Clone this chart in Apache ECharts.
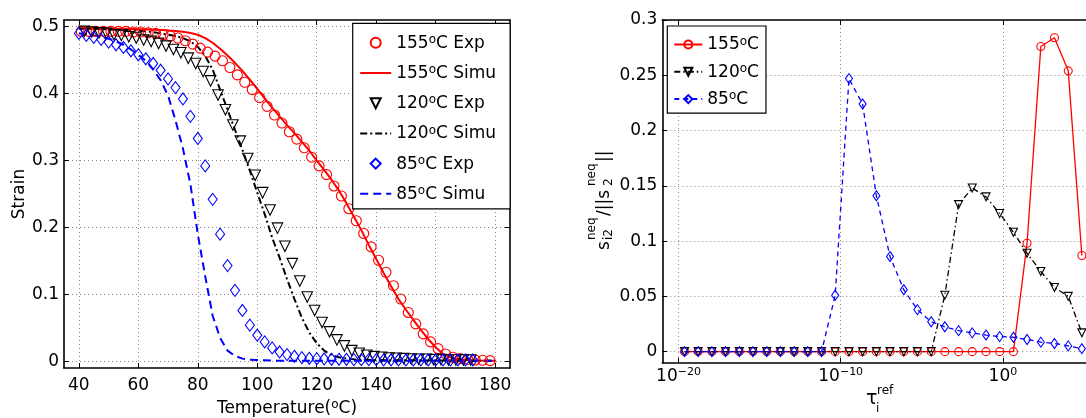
<!DOCTYPE html>
<html><head><meta charset="utf-8">
<script src="https://cdn.jsdelivr.net/npm/echarts@6/dist/echarts.min.js"></script>
<style>html,body{margin:0;padding:0;background:#fff}#c{width:1086px;height:418px}</style>
</head><body><div id="c"></div>
<script>
// ---------- Left chart data ----------
const T155exp = [40.8,43.3,45.8,48.3,50.8,53.3,55.8,58.3,60.8,63.3,65.8,68.3,70.8,73.3,75.8,78.3,80.8,83.3,85.8,88.3,90.8,93.3,95.8,98.3,100.8,103.3,105.8,108.3,110.8,113.3,115.8,118.3,120.8,123.3,125.8,128.3,130.8,133.3,135.8,138.3,140.8,143.3,145.8,148.3,150.8,153.3,155.8,158.3,160.8,163.3,165.8,168.3,170.8,173.3,175.8,178.3];
const S155exp = [0.493,0.493,0.493,0.493,0.493,0.493,0.493,0.492,0.492,0.491,0.490,0.488,0.486,0.483,0.479,0.474,0.468,0.462,0.456,0.449,0.439,0.428,0.417,0.406,0.394,0.381,0.368,0.356,0.343,0.332,0.319,0.305,0.292,0.279,0.262,0.247,0.228,0.210,0.191,0.171,0.151,0.133,0.113,0.093,0.073,0.056,0.041,0.029,0.019,0.011,0.006,0.004,0.003,0.002,0.0015,0.001];

const Tsim = [40,42.5,45,47.5,50,52.5,55,57.5,60,62.5,65,67.5,70,72.5,75,77.5,80,82.5,85,87.5,90,92.5,95,97.5,100,102.5,105,107.5,110,112.5,115,117.5,120,122.5,125,127.5,130,132.5,135,137.5,140,142.5,145,147.5,150,152.5,155,157.5,160,162.5,165,167.5,170,172.5,175,177.5,180];
const S155sim = [0.4975,0.4975,0.4974,0.4973,0.4972,0.497,0.4968,0.4966,0.4963,0.496,0.4956,0.4951,0.4945,0.4937,0.4925,0.4907,0.488,0.483,0.476,0.467,0.457,0.446,0.434,0.421,0.407,0.393,0.379,0.366,0.353,0.341,0.328,0.315,0.300,0.286,0.271,0.255,0.236,0.216,0.196,0.174,0.153,0.132,0.112,0.093,0.077,0.062,0.047,0.033,0.021,0.011,0.006,0.0035,0.002,0.0015,0.0012,0.001,0.001];

const T120exp = [41.8,44.3,46.8,49.3,51.8,54.3,56.8,59.3,61.8,64.3,66.8,69.3,71.8,74.3,76.8,79.3,81.8,84.3,86.8,89.3,91.8,94.3,96.8,99.3,101.8,104.3,106.8,109.3,111.8,114.3,116.8,119.3,121.8,124.3,126.8,129.3,131.8,134.3,136.8,139.3,141.8,144.3,146.8,149.3,151.8,154.3,156.8,159.3,161.8,164.3,166.8,169.3,171.8];
const S120exp = [0.493,0.492,0.491,0.490,0.488,0.487,0.485,0.483,0.480,0.478,0.475,0.471,0.466,0.461,0.453,0.445,0.433,0.419,0.398,0.376,0.353,0.329,0.303,0.278,0.252,0.226,0.199,0.172,0.146,0.120,0.096,0.076,0.058,0.044,0.032,0.023,0.016,0.012,0.009,0.007,0.006,0.005,0.0045,0.004,0.0035,0.003,0.003,0.0025,0.0025,0.002,0.002,0.002,0.002];
const S120sim = [0.497,0.497,0.497,0.4965,0.496,0.4955,0.495,0.4945,0.494,0.493,0.492,0.490,0.488,0.486,0.483,0.478,0.470,0.456,0.436,0.406,0.376,0.346,0.316,0.285,0.252,0.220,0.185,0.155,0.123,0.093,0.065,0.043,0.027,0.016,0.009,0.006,0.004,0.003,0.0025,0.002,0.002,0.0018,0.0017,0.0016,0.0015,0.0014,0.0013,0.0012,0.0012,0.0011,0.0011,0.001,0.001,0.001,0.001,0.001,0.001];

const T85exp = [40,42.5,45,47.5,50,52.5,55,57.5,60,62.5,65,67.5,70,72.5,75,77.5,80,82.5,85,87.5,90,92.5,95,97.5,100,102.5,105,107.5,110,112.5,115,117.5,120,122.5,125,127.5,130,132.5,135,137.5,140,142.5,145,147.5,150,152.5,155,157.5,160,162.5,165,167.5,170,172.5];
const S85exp = [0.490,0.487,0.484,0.481,0.477,0.473,0.469,0.464,0.458,0.452,0.445,0.435,0.422,0.409,0.392,0.366,0.333,0.292,0.242,0.190,0.143,0.106,0.076,0.054,0.039,0.029,0.020,0.014,0.010,0.0075,0.0055,0.0045,0.004,0.0035,0.003,0.003,0.003,0.0025,0.0025,0.0025,0.0025,0.002,0.002,0.002,0.002,0.002,0.002,0.002,0.002,0.002,0.002,0.002,0.002,0.002];
const S85sim = [0.490,0.489,0.487,0.485,0.482,0.478,0.473,0.466,0.458,0.449,0.436,0.420,0.397,0.360,0.318,0.265,0.190,0.127,0.068,0.035,0.016,0.008,0.004,0.0025,0.002,0.0015,0.001,0.001,0.001,0.001,0.001,0.001,0.001,0.001,0.001,0.001,0.001,0.001,0.001,0.001,0.001,0.001,0.001,0.001,0.001,0.001,0.001,0.001,0.001,0.001,0.001,0.001,0.001,0.001,0.001,0.001,0.001];

const leftXTicks = [40,60,80,100,120,140,160,180];
const leftYTicks = [0,0.1,0.2,0.3,0.4,0.5];

// ---------- Right chart data ----------
// log10 of tau_i^ref
const tauExp = [-19.63,-18.79,-17.94,-17.10,-16.25,-15.41,-14.56,-13.72,-12.87,-12.03,-11.18,-10.34,-9.49,-8.65,-7.80,-6.96,-6.11,-5.27,-4.42,-3.58,-2.73,-1.89,-1.04,-0.20,0.65,1.49,2.34,3.18,4.03,4.87];
const r155 = [0,0,0,0,0,0,0,0,0,0,0,0,0,0,0,0,0,0,0,0,0,0,0,0,0,0.098,0.276,0.284,0.254,0.087];
const r120 = [0,0,0,0,0,0,0,0,0,0,0,0,0,0,0,0,0,0,0,0.051,0.133,0.148,0.140,0.125,0.108,0.089,0.0725,0.058,0.050,0.017];
const r85  = [0,0,0,0,0,0,0,0,0,0,0,0.051,0.247,0.224,0.141,0.086,0.056,0.038,0.027,0.0225,0.019,0.017,0.015,0.0136,0.013,0.011,0.0086,0.0074,0.0052,0.0027];
const rightXTicks = [-20,-10,0];
const rightYTicks = [0,0.05,0.1,0.15,0.2,0.25,0.3];

const F = 'DejaVu Sans';
const RICH = {
  b: {fontFamily: F, fontSize: 17, color: '#000', verticalAlign: 'bottom', lineHeight: 18},
  s: {fontFamily: F, fontSize: 12, color: '#000', verticalAlign: 'top', lineHeight: 12, padding: [0,0,11,0]},
  e: {fontFamily: F, fontSize: 11, color: '#000', verticalAlign: 'top', lineHeight: 11, padding: [0,0,19,0]}
};
function degFmt(name){ const i = name.indexOf('°'); return '{b|'+name.slice(0,i)+'}{s|o}{b|'+name.slice(i+1)+'}'; }
function zip(a,b){ return a.map((v,i)=>[v,b[i]]); }

const gridLine = {show: true, lineStyle: {color: '#8a8a8a', width: 1, type: [1,3]}};
const axLine = {show: true, onZero: false, lineStyle: {color: '#000', width: 1.6}};
function tick(vals){ return {show: true, inside: true, length: 5, customValues: vals, lineStyle: {color: '#000', width: 1}}; }
const noLabel = {show: false};
const hollow = c => ({color: 'rgba(255,255,255,0)', borderColor: c, borderWidth: 1.1});
const noLine = c => ({color: c, width: 0});

const chart = echarts.init(document.getElementById('c'), null, {renderer: 'canvas'});
const option = {
  animation: false,
  backgroundColor: '#fff',
  grid: [
    {left: 64, top: 20, width: 446, height: 348, outerBoundsMode: 'none'},
    {left: 662.3, top: 20, width: 446, height: 342.7, outerBoundsMode: 'none'}
  ],
  xAxis: [
    {gridIndex: 0, type: 'value', min: 35, max: 185, position: 'bottom', axisLine: axLine, axisTick: tick(leftXTicks),
     axisLabel: {customValues: leftXTicks, margin: 9, fontFamily: F, fontSize: 17, color: '#000'}, splitLine: gridLine,
     name: '{b|Temperature(}{s|o}{b|C)}', nameLocation: 'middle', nameGap: 25, nameTextStyle: {rich: RICH, verticalAlign: 'top'}},
    {gridIndex: 0, type: 'value', min: 35, max: 185, position: 'top', axisLine: axLine, axisTick: tick(leftXTicks), axisLabel: noLabel, splitLine: {show: false}},
    {gridIndex: 1, type: 'value', min: -21, max: 6.5, position: 'bottom', axisLine: axLine, axisTick: tick(rightXTicks),
     axisLabel: {customValues: rightXTicks, margin: 4, formatter: v => '{b|10}{e|' + (v < 0 ? '\u2212' + Math.abs(v) : v) + '}', rich: RICH},
     splitLine: gridLine},
    {gridIndex: 1, type: 'value', min: -21, max: 6.5, position: 'top', axisLine: axLine, axisTick: tick(rightXTicks), axisLabel: noLabel, splitLine: {show: false}}
  ],
  yAxis: [
    {gridIndex: 0, type: 'value', min: -0.01, max: 0.51, position: 'left', axisLine: axLine, axisTick: tick(leftYTicks),
     axisLabel: {customValues: leftYTicks, margin: 5, fontFamily: F, fontSize: 17, color: '#000', formatter: v => String(Math.round(v*10)/10)}, splitLine: gridLine,
     name: 'Strain', nameLocation: 'middle', nameGap: 35, nameRotate: 90, nameTextStyle: {fontFamily: F, fontSize: 17, color: '#000'}},
    {gridIndex: 0, type: 'value', min: -0.01, max: 0.51, position: 'right', axisLine: axLine, axisTick: tick(leftYTicks), axisLabel: noLabel, splitLine: {show: false}},
    {gridIndex: 1, type: 'value', min: -0.01, max: 0.3, position: 'left', axisLine: axLine, axisTick: tick(rightYTicks),
     axisLabel: {customValues: rightYTicks, margin: 5, fontFamily: F, fontSize: 17, color: '#000', formatter: v => String(Math.round(v*100)/100)}, splitLine: gridLine},
    {gridIndex: 1, type: 'value', min: -0.01, max: 0.3, position: 'right', axisLine: axLine, axisTick: tick(rightYTicks), axisLabel: noLabel, splitLine: {show: false}}
  ],
  legend: [
    {data: ['155°C Exp','155°C Simu','120°C Exp','120°C Simu','85°C Exp','85°C Simu'],
     orient: 'vertical', left: 352.7, top: 23.3, padding: [10.5, 14, 1, 6.5], itemWidth: 31, itemHeight: 12.5, itemGap: 7.2,
     borderColor: '#000', borderWidth: 1.2, backgroundColor: '#fff', selectedMode: false,
     formatter: degFmt, textStyle: {rich: RICH}},
    {data: ['155°C','120°C','85°C'],
     orient: 'vertical', left: 667.3, top: 26, padding: [9.5, 7, 0, 6], itemWidth: 28, itemHeight: 10, itemGap: 4.3,
     borderColor: '#000', borderWidth: 1.2, backgroundColor: '#fff', selectedMode: false,
     formatter: degFmt, textStyle: {rich: RICH}}
  ],
  series: [
    {name: '155°C Exp', type: 'line', xAxisIndex: 0, yAxisIndex: 0, data: zip(T155exp, S155exp), symbol: 'circle', symbolSize: 10, showAllSymbol: true,
     lineStyle: noLine('#ff0000'), itemStyle: hollow('#ff0000'), emphasis: {disabled: true}},
    {name: '155°C Simu', type: 'line', xAxisIndex: 0, yAxisIndex: 0, data: zip(Tsim, S155sim), symbol: 'none',
     lineStyle: {color: '#ff0000', width: 2}, itemStyle: {color: 'rgba(255,255,255,0)', borderWidth: 0}, emphasis: {disabled: true}},
    {name: '120°C Exp', type: 'line', xAxisIndex: 0, yAxisIndex: 0, data: zip(T120exp, S120exp), symbol: 'triangle', symbolRotate: 180, symbolSize: 10.5, showAllSymbol: true,
     lineStyle: noLine('#000'), itemStyle: hollow('#000'), emphasis: {disabled: true}},
    {name: '120°C Simu', type: 'line', xAxisIndex: 0, yAxisIndex: 0, data: zip(Tsim, S120sim), symbol: 'none',
     lineStyle: {color: '#000', width: 2, type: [7,3,2,3]}, itemStyle: {color: 'rgba(255,255,255,0)', borderWidth: 0}, emphasis: {disabled: true}},
    {name: '85°C Exp', type: 'line', xAxisIndex: 0, yAxisIndex: 0, data: zip(T85exp, S85exp), symbol: 'diamond', symbolSize: [9,12], showAllSymbol: true,
     lineStyle: noLine('#0000ff'), itemStyle: hollow('#0000ff'), emphasis: {disabled: true}},
    {name: '85°C Simu', type: 'line', xAxisIndex: 0, yAxisIndex: 0, data: zip(Tsim, S85sim), symbol: 'none',
     lineStyle: {color: '#0000ff', width: 2, type: [8,5]}, itemStyle: {color: 'rgba(255,255,255,0)', borderWidth: 0}, emphasis: {disabled: true}},

    {name: '155°C', type: 'line', xAxisIndex: 2, yAxisIndex: 2, data: zip(tauExp, r155), symbol: 'circle', symbolSize: 8, showAllSymbol: true,
     lineStyle: {color: '#ff0000', width: 1.3}, itemStyle: hollow('#ff0000'), emphasis: {disabled: true}},
    {name: '120°C', type: 'line', xAxisIndex: 2, yAxisIndex: 2, data: zip(tauExp, r120), symbol: 'triangle', symbolRotate: 180, symbolSize: 8, showAllSymbol: true,
     lineStyle: {color: '#000', width: 1.3, type: [6,3,1.5,3]}, itemStyle: hollow('#000'), emphasis: {disabled: true}},
    {name: '85°C', type: 'line', xAxisIndex: 2, yAxisIndex: 2, data: zip(tauExp, r85), symbol: 'diamond', symbolSize: [7,10], showAllSymbol: true,
     lineStyle: {color: '#0000ff', width: 1.3, type: [5,4]}, itemStyle: hollow('#0000ff'), emphasis: {disabled: true}}
  ],
  graphic: [
    // tau_i^ref axis title
    {type: 'group', left: 866, top: 385, children: [
      {type: 'text', x: 0, y: 8, style: {text: 'τ', font: '19px "DejaVu Sans"', fill: '#000'}},
      {type: 'text', x: 11, y: 3, style: {text: 'ref', font: '12px "DejaVu Sans"', fill: '#000'}},
      {type: 'text', x: 10, y: 21, style: {text: 'i', font: '12px "DejaVu Sans"', fill: '#000'}}
    ]},
    // s_i2^neq / ||s_2^neq|| axis title (rotated)
    {type: 'group', x: 606, y: 250, rotation: Math.PI / 2, children: [
      {type: 'text', x: 0, y: -10, style: {text: 's', font: '17px "DejaVu Sans"', fill: '#000'}},
      {type: 'text', x: 10, y: -20, style: {text: 'neq', font: '12px "DejaVu Sans"', fill: '#000'}},
      {type: 'text', x: 10, y: -3, style: {text: 'i2', font: '12px "DejaVu Sans"', fill: '#000'}},
      {type: 'text', x: 34, y: -10, style: {text: '/||s', font: '17px "DejaVu Sans"', fill: '#000'}},
      {type: 'text', x: 64, y: -20, style: {text: 'neq', font: '12px "DejaVu Sans"', fill: '#000'}},
      {type: 'text', x: 64, y: -3, style: {text: '2', font: '12px "DejaVu Sans"', fill: '#000'}},
      {type: 'text', x: 88, y: -10, style: {text: '||', font: '17px "DejaVu Sans"', fill: '#000'}}
    ]}
  ]
};
chart.setOption(option);
</script>
</body></html>
